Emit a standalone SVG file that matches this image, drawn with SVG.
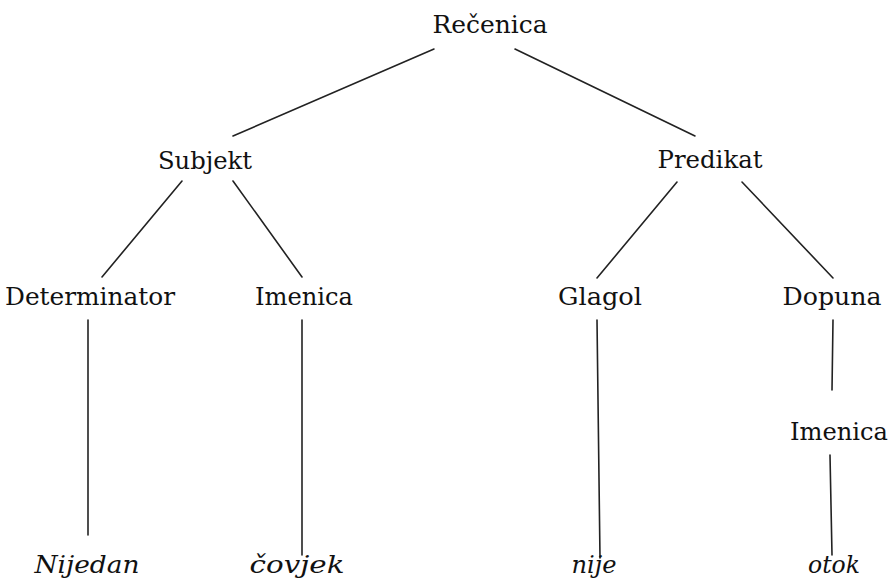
<svg xmlns="http://www.w3.org/2000/svg" width="894" height="579" viewBox="0 0 894 579">
<style>
text{font-family:"DejaVu Serif","Liberation Serif",serif;font-size:24px;fill:#111;text-anchor:middle}
.w{font-style:italic}
line{stroke:#222;stroke-width:1.6;stroke-linecap:round}
</style>
<rect width="894" height="579" fill="#fff"/>
<g id="connectors">
<line x1="434" y1="49" x2="233" y2="136"/>
<line x1="515" y1="49" x2="695" y2="136"/>
<line x1="182" y1="181" x2="102" y2="277"/>
<line x1="233" y1="181" x2="302" y2="277"/>
<line x1="677" y1="182" x2="597" y2="278"/>
<line x1="742" y1="182" x2="833" y2="278"/>
<line x1="88" y1="320" x2="88" y2="535"/>
<line x1="302" y1="320" x2="302" y2="555"/>
<line x1="597" y1="320" x2="600" y2="558"/>
<line x1="833" y1="320" x2="832" y2="390"/>
<line x1="830" y1="455" x2="832" y2="555"/>
</g>
<g id="recenica"><text x="490" y="33" textLength="115" lengthAdjust="spacingAndGlyphs">Rečenica</text></g>
<g id="subjekt"><text x="205" y="169" textLength="94" lengthAdjust="spacingAndGlyphs">Subjekt</text></g>
<g id="predikat"><text x="710" y="168" textLength="105" lengthAdjust="spacingAndGlyphs">Predikat</text></g>
<g id="determinator"><text x="90" y="305" textLength="170" lengthAdjust="spacingAndGlyphs">Determinator</text></g>
<g id="imenica1"><text x="304" y="305" textLength="98" lengthAdjust="spacingAndGlyphs">Imenica</text></g>
<g id="glagol"><text x="600" y="305" textLength="84" lengthAdjust="spacingAndGlyphs">Glagol</text></g>
<g id="dopuna"><text x="832" y="305" textLength="99" lengthAdjust="spacingAndGlyphs">Dopuna</text></g>
<g id="imenica2"><text x="839" y="440" textLength="98" lengthAdjust="spacingAndGlyphs">Imenica</text></g>
<g id="nijedan"><text class="w" x="87" y="573" textLength="105" lengthAdjust="spacingAndGlyphs">Nijedan</text></g>
<g id="covjek"><text class="w" x="297" y="573" textLength="95" lengthAdjust="spacingAndGlyphs">čovjek</text></g>
<g id="nije"><text class="w" x="594" y="573" textLength="45" lengthAdjust="spacingAndGlyphs">nije</text></g>
<g id="otok"><text class="w" x="834" y="573" textLength="52" lengthAdjust="spacingAndGlyphs">otok</text></g>
</svg>
